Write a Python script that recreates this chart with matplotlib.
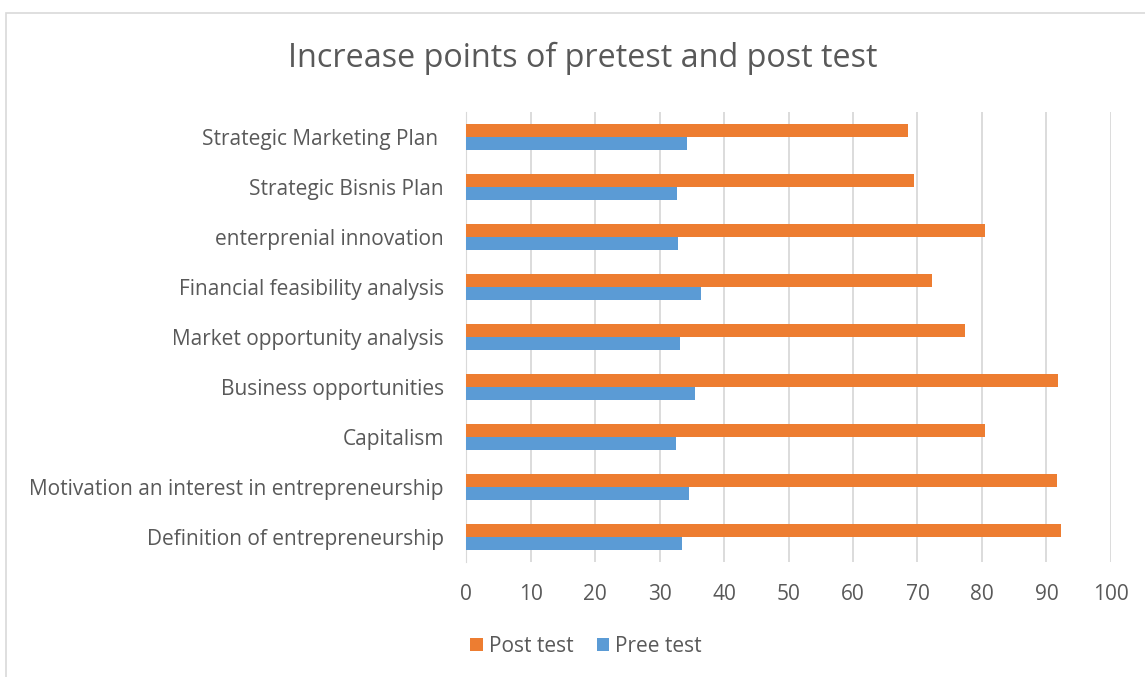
import numpy as np
import matplotlib.pyplot as plt
from matplotlib.patches import Rectangle

# Data (bottom to top)
categories = [
    "Definition of entrepreneurship",
    "Motivation an interest in entrepreneurship",
    "Capitalism",
    "Business opportunities",
    "Market opportunity analysis",
    "Financial feasibility analysis",
    "enterprenial innovation",
    "Strategic Bisnis Plan",
    "Strategic Marketing Plan ",
]
post_test = [92.3, 91.6, 80.5, 91.8, 77.3, 72.2, 80.5, 69.5, 68.5]
pre_test = [33.5, 34.5, 32.5, 35.5, 33.2, 36.5, 32.9, 32.7, 34.2]
x_ticks = list(range(0, 101, 10))

plt.rcParams['font.family'] = ['Open Sans', 'DejaVu Sans']
text_color = '#595959'
orange = '#ed7d31'
blue = '#5b9bd5'

fig = plt.figure(figsize=(11.45, 6.77), dpi=100)
ax = fig.add_axes([0.407, 0.170, 0.5633, 0.6647])

y = np.arange(len(categories))
h = 0.26
ax.barh(y + h / 2, post_test, height=h, color=orange, label='Post test', zorder=3)
ax.barh(y - h / 2, pre_test, height=h, color=blue, label='Pree test', zorder=3)

ax.set_xlim(0, 100)
ax.set_ylim(-0.5, len(categories) - 0.5)
ax.set_xticks(x_ticks)
ax.set_yticks(y)
ax.set_yticklabels(categories)
ax.grid(axis='x', color='#d9d9d9', linewidth=1.3, zorder=0)
for s in ['top', 'right', 'bottom']:
    ax.spines[s].set_visible(False)
ax.spines['left'].set_color('#d9d9d9')
ax.tick_params(axis='both', length=0, labelsize=15, colors=text_color)
ax.tick_params(axis='x', pad=16)
ax.tick_params(axis='y', pad=16)

fig.text(0.509, 0.914, 'Increase points of pretest and post test',
         ha='center', va='center', fontsize=23.3, color=text_color)

leg = fig.legend(loc='center', bbox_to_anchor=(0.512, 0.045), ncol=2, frameon=False,
                 fontsize=15, handlelength=0.6, handleheight=0.6,
                 handletextpad=0.3, columnspacing=1.1)
for t in leg.get_texts():
    t.set_color(text_color)

# outer chart border
fig.patches.append(Rectangle((6 / 1145, -0.1), 1.2, 0.1 + (677 - 13) / 677,
                             transform=fig.transFigure, fill=False,
                             edgecolor='#d9d9d9', linewidth=1.2))

fig.savefig('out.png', dpi=100)
